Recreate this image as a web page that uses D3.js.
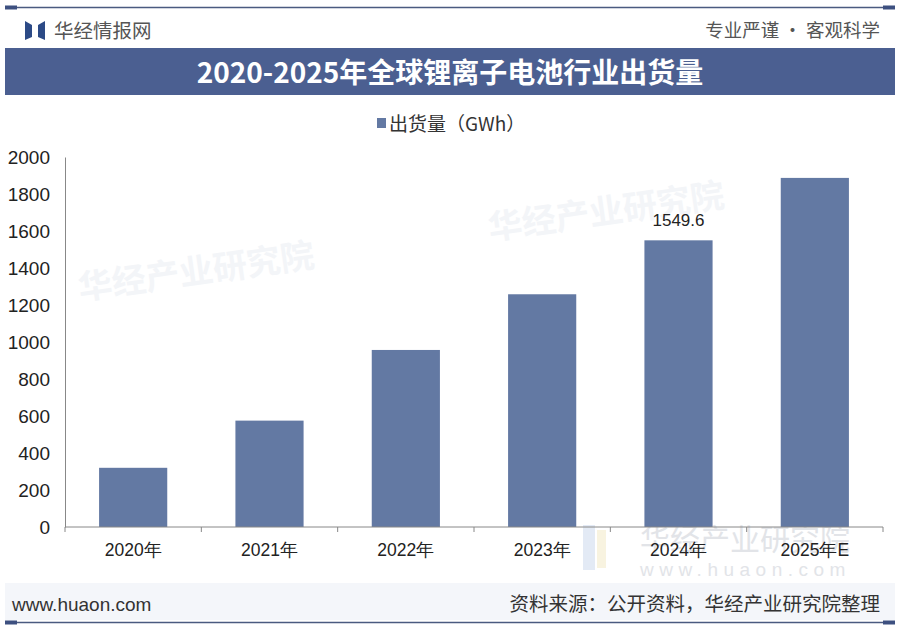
<!DOCTYPE html>
<html>
<head>
<meta charset="utf-8">
<script src="https://cdn.jsdelivr.net/npm/d3@7"></script>
<style>
  body { margin: 0; background: #fff; }
  svg { display: block; }
</style>
</head>
<body>
<script>
var years = ['2020年', '2021年', '2022年', '2023年', '2024年', '2025年E'];
var shipments = [320, 575, 957, 1258, 1549.6, 1887];
var labelled = ['2024年'];
var yTicks = [0, 200, 400, 600, 800, 1000, 1200, 1400, 1600, 1800, 2000];

var W = 900, H = 629;
var cjk = '"Noto Sans CJK SC", "Noto Sans", sans-serif';
var num = '"Liberation Sans", Arial, sans-serif';

var svg = d3.select('body').append('svg')
  .attr('width', W)
  .attr('height', H);

// top and bottom rules
svg.append('line').attr('x1', 6).attr('x2', 894).attr('y1', 7.5).attr('y2', 7.5)
  .attr('stroke', '#4a5a80').attr('stroke-width', 1.5);
svg.append('line').attr('x1', 6).attr('x2', 894).attr('y1', 622.5).attr('y2', 622.5)
  .attr('stroke', '#4a5a80').attr('stroke-width', 1.5);
svg.append('rect').attr('x', 5).attr('y', 5.5).attr('width', 12).attr('height', 4).attr('fill', '#3d5080');
svg.append('rect').attr('x', 883).attr('y', 5.5).attr('width', 12).attr('height', 4).attr('fill', '#3d5080');
svg.append('rect').attr('x', 5).attr('y', 620.5).attr('width', 12).attr('height', 4).attr('fill', '#3d5080');
svg.append('rect').attr('x', 883).attr('y', 620.5).attr('width', 12).attr('height', 4).attr('fill', '#3d5080');

// header logo
svg.append('path').attr('d', 'M25,21 L32,25 L32,37 L25,40 Z').attr('fill', '#2c4a86');
svg.append('path').attr('d', 'M45,21 L38,25 L38,37 L45,40 Z').attr('fill', '#2c4a86');
svg.append('text').attr('x', 54).attr('y', 38)
  .style('font-family', cjk).style('font-size', '19.5px').attr('fill', '#555')
  .text('华经情报网');
svg.append('text').attr('x', 880).attr('y', 37).attr('text-anchor', 'end')
  .style('font-family', cjk).style('font-size', '18.5px').attr('fill', '#555')
  .text('专业严谨 • 客观科学');

// title band
svg.append('rect').attr('x', 5).attr('y', 48).attr('width', 890).attr('height', 47)
  .attr('fill', '#4b5f91');
svg.append('text').attr('x', 450).attr('y', 83).attr('text-anchor', 'middle')
  .style('font-family', cjk).style('font-size', '28px').style('font-weight', 'bold')
  .attr('fill', '#fff')
  .text('2020-2025年全球锂离子电池行业出货量');

// legend
svg.append('rect').attr('x', 377).attr('y', 118).attr('width', 9).attr('height', 10).attr('fill', '#6379a3');
svg.append('text').attr('x', 389).attr('y', 131)
  .style('font-family', cjk).style('font-size', '19px').attr('fill', '#333')
  .text('出货量（GWh）');

// faint watermarks
var wm = svg.append('g').style('font-family', cjk).style('font-weight', 'bold').attr('fill', '#f3f5f8');
wm.append('text').attr('x', 80).attr('y', 300).attr('transform', 'rotate(-8,80,300)')
  .style('font-size', '34px').text('华经产业研究院');
wm.append('text').attr('x', 490).attr('y', 240).attr('transform', 'rotate(-8,490,240)')
  .style('font-size', '34px').text('华经产业研究院');
svg.append('rect').attr('x', 583).attr('y', 525).attr('width', 12).attr('height', 45).attr('fill', '#e3eaf5');
svg.append('rect').attr('x', 597).attr('y', 530).attr('width', 9).attr('height', 38).attr('fill', '#f8f3e0');
svg.append('text').attr('x', 640).attr('y', 550)
  .style('font-family', cjk).style('font-size', '30px').attr('fill', '#e2e4e8')
  .text('华经产业研究院');
svg.append('text').attr('x', 640).attr('y', 576)
  .style('font-family', num).style('font-size', '19px').style('letter-spacing', '5.5px')
  .attr('fill', '#e2e4e8').text('www.huaon.com');

// footer band
svg.append('rect').attr('x', 5).attr('y', 583).attr('width', 890).attr('height', 37).attr('fill', '#f4f6fa');
svg.append('text').attr('x', 12).attr('y', 611)
  .style('font-family', num).style('font-size', '19px').attr('fill', '#333')
  .text('www.huaon.com');
svg.append('text').attr('x', 880).attr('y', 611).attr('text-anchor', 'end')
  .style('font-family', cjk).style('font-size', '19.5px').attr('fill', '#333')
  .text('资料来源：公开资料，华经产业研究院整理');

// plot
var margin = { left: 65, right: 17, top: 157, bottom: 102 };
var x = d3.scaleBand().domain(years).range([margin.left, W - margin.right])
  .paddingInner(0.5).paddingOuter(0.25);
var y = d3.scaleLinear().domain([0, 2000]).range([H - margin.bottom, margin.top]);

var data = years.map(function (d, i) { return { year: d, value: shipments[i] }; });

svg.selectAll('rect.bar').data(data).enter().append('rect')
  .attr('class', 'bar')
  .attr('x', function (d) { return x(d.year); })
  .attr('y', function (d) { return y(d.value); })
  .attr('width', x.bandwidth())
  .attr('height', function (d) { return y(0) - y(d.value); })
  .attr('fill', '#6379a3');

svg.selectAll('text.val').data(data.filter(function (d) { return labelled.indexOf(d.year) >= 0; }))
  .enter().append('text')
  .attr('class', 'val')
  .attr('x', function (d) { return x(d.year) + x.bandwidth() / 2; })
  .attr('y', function (d) { return y(d.value) - 14; })
  .attr('text-anchor', 'middle')
  .style('font-family', num).style('font-size', '17px').attr('fill', '#222')
  .text(function (d) { return d.value.toFixed(1); });

var yAxis = svg.append('g')
  .attr('transform', 'translate(' + margin.left + ',0)')
  .call(d3.axisLeft(y).tickValues(yTicks).tickSize(0).tickPadding(15).tickFormat(d3.format('d')));
yAxis.select('.domain').attr('stroke', '#888');
yAxis.selectAll('text').style('font-family', num).style('font-size', '19px').attr('fill', '#222');

// x axis: ticks at category boundaries
var xAxis = svg.append('g').attr('transform', 'translate(0,' + y(0) + ')');
xAxis.append('line').attr('x1', margin.left).attr('x2', W - margin.right)
  .attr('stroke', '#888');
var step = x.step();
xAxis.selectAll('line.tick').data(d3.range(years.length + 1)).enter().append('line')
  .attr('class', 'tick')
  .attr('x1', function (i) { return margin.left + i * step; })
  .attr('x2', function (i) { return margin.left + i * step; })
  .attr('y1', 0).attr('y2', 5)
  .attr('stroke', '#888');
xAxis.selectAll('text').data(years).enter().append('text')
  .attr('x', function (d) { return x(d) + x.bandwidth() / 2; })
  .attr('y', 29)
  .attr('text-anchor', 'middle')
  .style('font-family', num).style('font-size', '17.5px').attr('fill', '#222')
  .text(function (d) { return d; });
</script>
</body>
</html>
